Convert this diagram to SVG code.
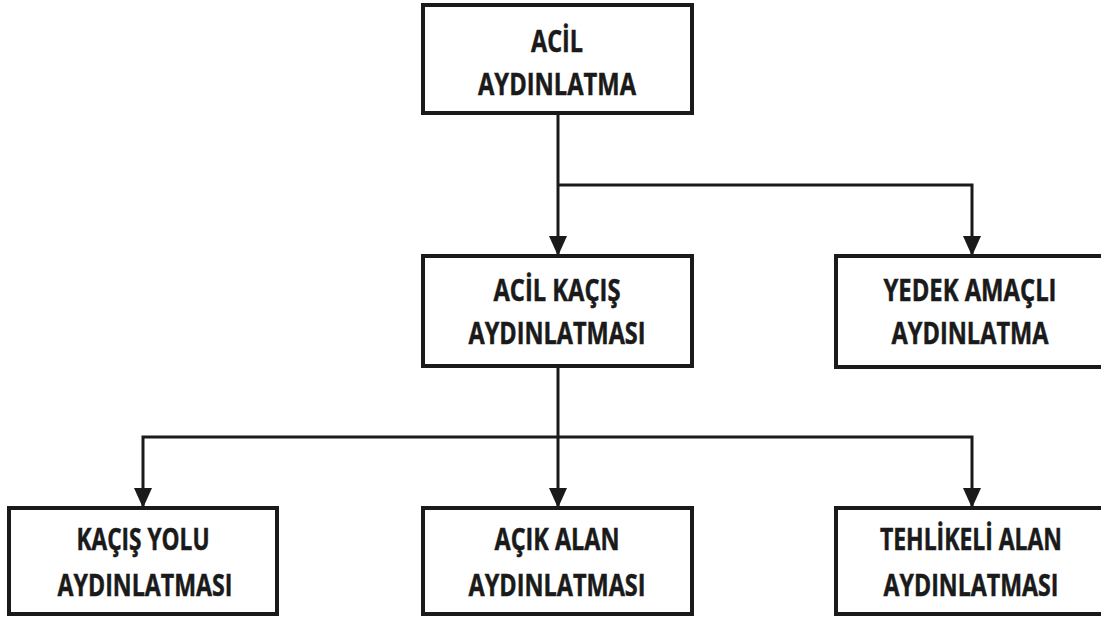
<svg xmlns="http://www.w3.org/2000/svg" width="1101" height="620" viewBox="0 0 1101 620">
<defs>
<style>
.box{fill:#fff;stroke:#1a1a1a;stroke-width:4}
.lbl{font-family:"Open Sans","Liberation Sans",sans-serif;font-weight:700;font-size:30px;fill:#1a1a1a;stroke:#1a1a1a;stroke-width:0.5;text-anchor:middle}
.conn{fill:none;stroke:#1a1a1a;stroke-width:3}
</style>
<marker id="arr" viewBox="0 0 20 18" refX="20" refY="9" markerWidth="20" markerHeight="18" markerUnits="userSpaceOnUse" orient="auto">
<path d="M0,0 L20,9 L0,18 z" fill="#1a1a1a"/>
</marker>
</defs>
<rect width="1101" height="620" fill="#fff"/>
<g id="connectors">
<path class="conn" d="M558,113 V256" marker-end="url(#arr)"/>
<path class="conn" d="M558,185 H972 V256" marker-end="url(#arr)"/>
<path class="conn" d="M558,366 V508" marker-end="url(#arr)"/>
<path class="conn" d="M558,437 H143 V508" marker-end="url(#arr)"/>
<path class="conn" d="M558,437 H972 V508" marker-end="url(#arr)"/>
</g>
<g id="acil-aydinlatma">
<rect class="box" x="423" y="5" width="269" height="108"/>
<text class="lbl" x="557" y="52" textLength="52" lengthAdjust="spacingAndGlyphs">ACİL</text>
<text class="lbl" x="557" y="95" textLength="158" lengthAdjust="spacingAndGlyphs">AYDINLATMA</text>
</g>
<g id="acil-kacis">
<rect class="box" x="423" y="256" width="269" height="110"/>
<text class="lbl" x="557" y="301" textLength="127" lengthAdjust="spacingAndGlyphs">ACİL KAÇIŞ</text>
<text class="lbl" x="557" y="344" textLength="177" lengthAdjust="spacingAndGlyphs">AYDINLATMASI</text>
</g>
<g id="yedek-amacli">
<path class="box" d="M1101,256 H836 V367 H1101"/>
<text class="lbl" x="970" y="301" textLength="173" lengthAdjust="spacingAndGlyphs">YEDEK AMAÇLI</text>
<text class="lbl" x="970" y="344" textLength="157" lengthAdjust="spacingAndGlyphs">AYDINLATMA</text>
</g>
<g id="kacis-yolu">
<rect class="box" x="9" y="508" width="268" height="106"/>
<text class="lbl" x="143" y="550" textLength="133" lengthAdjust="spacingAndGlyphs">KAÇIŞ YOLU</text>
<text class="lbl" x="145" y="596" textLength="175" lengthAdjust="spacingAndGlyphs">AYDINLATMASI</text>
</g>
<g id="acik-alan">
<rect class="box" x="423" y="508" width="269" height="106"/>
<text class="lbl" x="557" y="550" textLength="125" lengthAdjust="spacingAndGlyphs">AÇIK ALAN</text>
<text class="lbl" x="557" y="596" textLength="177" lengthAdjust="spacingAndGlyphs">AYDINLATMASI</text>
</g>
<g id="tehlikeli-alan">
<path class="box" d="M1101,508 H836 V614 H1101"/>
<text class="lbl" x="971" y="550" textLength="182" lengthAdjust="spacingAndGlyphs">TEHLİKELİ ALAN</text>
<text class="lbl" x="971" y="596" textLength="175" lengthAdjust="spacingAndGlyphs">AYDINLATMASI</text>
</g>
</svg>
